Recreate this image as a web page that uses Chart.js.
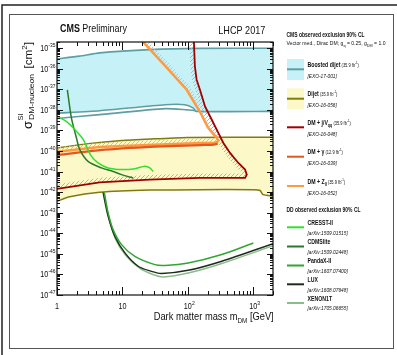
<!DOCTYPE html>
<html>
<head>
<meta charset="utf-8">
<script src="https://cdn.jsdelivr.net/npm/chart.js@4/dist/chart.umd.min.js"></script>
<style>
  html, body { margin: 0; padding: 0; background: #fff; }
  canvas { display: block; }
</style>
</head>
<body>
<canvas id="c" width="397" height="355"></canvas>
<script>
// ---- Collider limits (mass in GeV, SI cross section in cm^2) ----
const boostedTopMass = [1, 2.2, 4.5, 26, 150, 2000];
const boostedTopXsec = [3.0e-36, 4.1e-36, 5.9e-36, 8.5e-36, 9.8e-36, 1.0e-35];
const boostedBotMass = [1, 4.5, 45, 90, 120, 134, 2000];
const boostedBotXsec = [6.9e-39, 9.1e-39, 1.78e-38, 1.78e-38, 1.25e-38, 8.5e-39, 8.5e-39];
const boostedTongueMass = [1, 4.5, 45, 100, 125, 134];
const boostedTongueXsec = [3.8e-39, 5.9e-39, 1.15e-38, 1.0e-38, 9.5e-39, 8.5e-39];

const dijetTopMass = [1, 3, 9.7, 31, 100, 2000];
const dijetTopXsec = [1.41e-40, 2.29e-40, 3.24e-40, 3.9e-40, 4.57e-40, 4.68e-40];
const dijetBotMass = [1, 1.56, 4.5, 26, 150, 1000, 1270, 1410, 2000];
const dijetBotXsec = [3.6e-43, 6.0e-43, 9.8e-43, 1.26e-42, 1.32e-42, 1.32e-42, 1.2e-42, 7.6e-43, 6.5e-43];

const jvMass = [122, 124, 128, 136, 153, 183, 231, 292, 349, 441, 591, 749, 795, 749, 667, 153, 26, 4.5, 1];
const jvXsec = [3.5e-35, 1.78e-35, 1.32e-36, 2.95e-37, 9.5e-38, 1.48e-38, 3.4e-39, 7.6e-40, 2.45e-40, 8.1e-41, 2.63e-41, 1.26e-41, 7.1e-42, 4.9e-42, 4.9e-42, 4.9e-42, 4.1e-42, 3.0e-42, 1.45e-42];

const photonMass = [1, 4.5, 31, 153, 250, 285];
const photonXsec = [6.3e-41, 1.1e-40, 1.62e-40, 1.95e-40, 2.04e-40, 2.3e-40];

const zllMass = [17.4, 20.7, 44.6, 96, 153, 203, 274, 292, 280, 250, 153, 31, 4.5, 1];
const zllXsec = [4.1e-35, 2.0e-35, 1.41e-36, 9.5e-38, 8.1e-39, 1.38e-39, 4.5e-40, 3.2e-40, 2.7e-40, 2.55e-40, 2.45e-40, 2.04e-40, 1.55e-40, 9.3e-41];

// ---- Direct detection limits ----
const cresstMass = [1, 1.39, 1.98, 2.5, 2.9, 3.3, 4.24, 6.04, 9.68, 15.5, 22, 26.3, 29.5];
const cresstXsec = [4.9e-39, 2.75e-39, 9.1e-40, 3.8e-40, 1.4e-40, 6.0e-41, 2.63e-41, 1.51e-41, 1.26e-41, 1.38e-41, 1.82e-41, 1.51e-41, 1.0e-41];
const cdmsMass = [1.44, 1.66, 1.98, 2.23, 2.98, 4.79, 7.2, 9.68, 14.6];
const cdmsXsec = [9.5e-38, 4.1e-39, 4.4e-40, 1.17e-40, 3.16e-41, 1.51e-41, 1.02e-41, 7.1e-42, 4.9e-42];
const pandaMass = [5.25, 6.04, 7.2, 9.68, 15.5, 31.3, 44.6, 101, 330, 1000];
const pandaXsec = [9.8e-43, 9.8e-44, 1.51e-44, 2.82e-45, 7.6e-46, 3.0e-46, 2.75e-46, 3.6e-46, 9.3e-46, 3.4e-45];
const luxMass = [5.06, 6.04, 7.65, 10.9, 17.4, 27.9, 39.7, 101, 330, 2000];
const luxXsec = [9.8e-43, 6.8e-44, 7.2e-45, 1.12e-45, 2.5e-46, 1.41e-46, 1.1e-46, 1.58e-46, 4.4e-46, 3.16e-45];
const xenonMass = [5.3, 6.2, 7.92, 11.3, 18.5, 29.2, 42, 101, 330, 2000];
const xenonXsec = [9.0e-43, 6.0e-44, 4.9e-45, 8.3e-46, 1.95e-46, 1.0e-46, 7.6e-47, 1.17e-46, 3.4e-46, 2.5e-45];

// ---- Axis ticks ----
const xTickExponents = [0, 1, 2, 3];
const yTickExponents = [-47, -46, -45, -44, -43, -42, -41, -40, -39, -38, -37, -36, -35];

// ---- Legend text ----
const colliderNames = ['Boosted dijet', 'Dijet', 'DM + j/V', 'DM + \u03b3', 'DM + Z'];
const colliderNameSubs = ['', '', 'qq', '', 'll'];
const colliderLumis = ['35.9', '35.9', '35.9', '12.9', '35.9'];
const colliderRefs = ['[EXO-17-001]', '[EXO-16-056]', '[EXO-16-048]', '[EXO-16-039]', '[EXO-16-052]'];
const ddNames = ['CRESST-II', 'CDMSlite', 'PandaX-II', 'LUX', 'XENON1T'];
const ddRefs = ['[arXiv:1509.01515]', '[arXiv:1509.02448]', '[arXiv:1607.07400]', '[arXiv:1608.07648]', '[arXiv:1705.06655]'];

const COL = {
  cyanFill: '#c6f1f7', teal: '#5f9da5',
  yellowFill: '#fcf8c8', olive: '#7f7b10',
  jv: '#a00000', photon: '#e4561e', zll: '#ff9a40',
  cresst: '#2fe02f', cdms: '#2a7a2a', panda: '#30a530', lux: '#1d2d1d', xenon: '#8cbc8c'
};

const pts = (m, s) => m.map((v, i) => ({ x: v, y: s[i] }));
const FONT = '"Liberation Sans", Arial, sans-serif';

function line(label, m, s, color, width, extra) {
  return Object.assign({
    label, data: pts(m, s), borderColor: color, borderWidth: width,
    showLine: true, pointRadius: 0, fill: false, tension: 0, clip: 0
  }, extra || {});
}

const datasets = [
  line('CRESST-II', cresstMass, cresstXsec, COL.cresst, 1.5, { order: 1, tension: 0.3 }),
  line('CDMSlite', cdmsMass, cdmsXsec, COL.cdms, 1.5, { order: 1, tension: 0.3 }),
  line('PandaX-II', pandaMass, pandaXsec, COL.panda, 1.5, { order: 1, tension: 0.3 }),
  line('LUX', luxMass, luxXsec, COL.lux, 1.5, { order: 1, tension: 0.3 }),
  line('XENON1T', xenonMass, xenonXsec, COL.xenon, 1.5, { order: 1, tension: 0.3 }),
  line('DM + j/V', jvMass, jvXsec, COL.jv, 1.8, { order: 2, hatch: '#e8a07a' }),
  line('DM + gamma', photonMass, photonXsec, COL.photon, 2.2, { order: 3, tension: 0.2 }),
  line('DM + Z', zllMass, zllXsec, COL.zll, 2.5, { order: 4, hatch: '#f7b28a', hatchSteepOutside: true }),
  line('Dijet low', dijetBotMass, dijetBotXsec, COL.olive, 1.5, { order: 5, tension: 0.2 }),
  line('Dijet', dijetTopMass, dijetTopXsec, COL.olive, 1.5, { order: 6, tension: 0.2, fill: 8, backgroundColor: COL.yellowFill }),
  line('Boosted tongue', boostedTongueMass, boostedTongueXsec, COL.teal, 1.6, { order: 7, tension: 0.2 }),
  line('Boosted low', boostedBotMass, boostedBotXsec, COL.teal, 1.6, { order: 7, tension: 0.2 }),
  line('Boosted dijet', boostedTopMass, boostedTopXsec, COL.teal, 1.6, { order: 8, tension: 0.2, fill: 11, backgroundColor: COL.cyanFill })
];

function hatchPattern(ctx, color) {
  const c = document.createElement('canvas');
  c.width = 4; c.height = 4;
  const g = c.getContext('2d');
  g.strokeStyle = color; g.lineWidth = 1;
  g.beginPath();
  g.moveTo(-1, 5); g.lineTo(5, -1);
  g.moveTo(-1, 1); g.lineTo(1, -1);
  g.moveTo(3, 5); g.lineTo(5, 3);
  g.stroke();
  return ctx.createPattern(c, 'repeat');
}

// One-sided hatched band drawn along a contour
const hatchBand = {
  id: 'hatchBand',
  beforeDatasetDraw(chart, args) {
    const ds = chart.data.datasets[args.index];
    if (!ds.hatch) return;
    const ctx = chart.ctx, a = chart.chartArea, w = 4.5;
    const p = args.meta.data.map(e => [e.x, e.y]);
    ctx.save();
    ctx.beginPath(); ctx.rect(a.left, a.top, a.right - a.left, a.bottom - a.top); ctx.clip();
    ctx.fillStyle = hatchPattern(ctx, ds.hatch);
    for (let i = 0; i < p.length - 1; i++) {
      const [x0, y0] = p[i], [x1, y1] = p[i + 1];
      const dx = x1 - x0, dy = y1 - y0, L = Math.hypot(dx, dy);
      if (!L) continue;
      const side = ds.hatchSteepOutside && Math.abs(dy) > Math.abs(dx) * 0.4 ? -1 : 1;
      const nx = -dy / L * w * side, ny = dx / L * w * side;
      ctx.beginPath();
      ctx.moveTo(x0, y0); ctx.lineTo(x1, y1);
      ctx.lineTo(x1 + nx, y1 + ny); ctx.lineTo(x0 + nx, y0 + ny);
      ctx.closePath(); ctx.fill();
    }
    ctx.restore();
  }
};

// Draws a run of text segments [text, font, dy] with horizontal compression
function rich(ctx, segs, x, y, sx, align, fitW) {
  ctx.save();
  let w = 0;
  for (const s of segs) { ctx.font = s[1]; w += ctx.measureText(s[0]).width; }
  if (fitW) sx = fitW / w;
  ctx.translate(x, y); ctx.scale(sx, 1);
  let cx = align === 'right' ? -w : align === 'center' ? -w / 2 : 0;
  for (const s of segs) {
    ctx.font = s[1];
    ctx.fillText(s[0], cx, s[2] || 0);
    cx += ctx.measureText(s[0]).width;
  }
  ctx.restore();
  return w * sx;
}
const f = (size, style) => (style ? style + ' ' : '') + size + 'px ' + FONT;

const decorations = {
  id: 'decorations',
  afterDraw(chart) {
    const ctx = chart.ctx, a = chart.chartArea;
    const xs = chart.scales.x, ys = chart.scales.y;
    ctx.save();
    ctx.fillStyle = '#111';
    ctx.textBaseline = 'alphabetic';

    // page frames
    ctx.strokeStyle = '#222'; ctx.lineWidth = 1.5;
    ctx.beginPath(); ctx.moveTo(2, 355); ctx.lineTo(2, 5); ctx.lineTo(397, 5); ctx.stroke();
    ctx.strokeStyle = '#555'; ctx.lineWidth = 1;
    ctx.strokeRect(9.5, 14.5, 384, 334);

    // plot frame
    ctx.strokeStyle = '#111'; ctx.lineWidth = 1.2;
    ctx.strokeRect(a.left, a.top, a.right - a.left, a.bottom - a.top);

    // x ticks (inward, bottom and top)
    ctx.lineWidth = 1;
    ctx.beginPath();
    for (let d = 0; d <= 3; d++) {
      for (let k = 1; k <= 9; k++) {
        const v = k * Math.pow(10, d);
        if (v > xs.max) break;
        const px = Math.round(xs.getPixelForValue(v)) + 0.5;
        const len = k === 1 ? 8 : 4;
        ctx.moveTo(px, a.bottom); ctx.lineTo(px, a.bottom - len);
        ctx.moveTo(px, a.top); ctx.lineTo(px, a.top + len);
      }
    }
    // y ticks (inward, left and right)
    for (let e = -47; e <= -35; e++) {
      for (let k = 1; k <= 9; k++) {
        const v = k * Math.pow(10, e);
        if (v > ys.max) break;
        const py = Math.round(ys.getPixelForValue(v)) + 0.5;
        const len = k === 1 ? 6 : 3;
        ctx.moveTo(a.left, py); ctx.lineTo(a.left + len, py);
        ctx.moveTo(a.right, py); ctx.lineTo(a.right - len, py);
      }
    }
    ctx.stroke();

    // y tick labels
    for (const e of yTickExponents) {
      const py = ys.getPixelForValue(Math.pow(10, e));
      rich(ctx, [['10', f(8.5), 0], [String(e), f(5.8), -4]], 55.5, py + 3, 0.85, 'right');
    }
    // x tick labels
    for (const e of xTickExponents) {
      const px = xs.getPixelForValue(Math.pow(10, e));
      if (e === 0) rich(ctx, [['1', f(8.5)]], px, 309, 0.85, 'center');
      else if (e === 1) rich(ctx, [['10', f(8.5)]], px, 309, 0.85, 'center');
      else {
        ctx.save(); ctx.font = f(8.5);
        const w10 = ctx.measureText('10').width * 0.85;
        ctx.restore();
        rich(ctx, [['10', f(8.5), 0], [String(e), f(6), -4]], px - w10 / 2, 309, 0.85, 'left');
      }
    }

    // axis titles
    rich(ctx, [['Dark matter mass m', f(11)], ['DM', f(7.5), 3], [' [GeV]', f(11)]], 273.7, 320, 1, 'right', 120);
    ctx.save();
    ctx.translate(31.5, 129); ctx.rotate(-Math.PI / 2);
    ctx.font = f(13); ctx.fillText('\u03c3', 0, 0);
    const sw = ctx.measureText('\u03c3').width;
    ctx.font = f(7.5); ctx.fillText('SI', sw + 0.5, -8.5);
    rich(ctx, [['DM-nucleon', f(8)]], sw + 1, 2.2, 1, 'left', 46);
    rich(ctx, [['[cm', f(11), 0], ['2', f(7.5), -5], [']', f(11), 0]], 60.5, 0, 1, 'left', 26.5);
    ctx.restore();

    // headline texts
    rich(ctx, [['CMS', f(10.5, 'bold')], [' Preliminary', f(10.5)]], 60, 32, 1, 'left', 67);
    rich(ctx, [['LHCP 2017', f(11.5)]], 218.3, 34, 1, 'left', 47);

    // legend
    const lx = 286.5, tx = 307.5, sx = 0.8;
    rich(ctx, [['CMS observed exclusion 90% CL', f(6.5, 'bold')]], lx, 36.5, 1, 'left', 78);
    rich(ctx, [['Vector med., Dirac DM; g', f(5.5)], ['q', f(4), 1.5], [' = 0.25, g', f(5.5)], ['DM', f(4), 1.5], [' = 1.0', f(5.5)]], lx, 45, 1, 'left', 99);

    const colliderLineY = [69.3, 98.7, 127.3, 156.7, 186];
    const colliderColors = [COL.teal, COL.olive, COL.jv, COL.photon, COL.zll];
    for (let i = 0; i < colliderNames.length; i++) {
      const y = colliderLineY[i];
      if (i < 2) {
        ctx.fillStyle = i === 0 ? COL.cyanFill : COL.yellowFill;
        ctx.fillRect(287, y - 10.3, 17, 21);
      }
      ctx.strokeStyle = colliderColors[i]; ctx.lineWidth = 2;
      ctx.beginPath(); ctx.moveTo(287, y); ctx.lineTo(304, y); ctx.stroke();
      ctx.fillStyle = '#111';
      const segs = [[colliderNames[i], f(6.5, 'bold'), 0]];
      if (colliderNameSubs[i]) segs.push([colliderNameSubs[i], f(4.5, 'bold'), 2]);
      segs.push([' (' + colliderLumis[i] + ' fb', f(5), 0], ['-1', f(3.5), -3], [')', f(5), 0]);
      rich(ctx, segs, tx, y - 2.5, sx, 'left');
      rich(ctx, [[colliderRefs[i], f(6, 'italic')]], tx, y + 8.5, sx, 'left');
    }

    rich(ctx, [['DD observed exclusion 90% CL', f(6.5, 'bold')]], lx, 211.5, 1, 'left', 74);
    const ddLineY = [227.3, 246.5, 265.5, 284.3, 303];
    const ddColors = [COL.cresst, COL.cdms, COL.panda, COL.lux, COL.xenon];
    for (let i = 0; i < ddNames.length; i++) {
      const y = ddLineY[i];
      ctx.strokeStyle = ddColors[i]; ctx.lineWidth = 2;
      ctx.beginPath(); ctx.moveTo(287, y); ctx.lineTo(304, y); ctx.stroke();
      ctx.fillStyle = '#111';
      rich(ctx, [[ddNames[i], f(6.5, 'bold')]], tx, y - 2.3, sx, 'left');
      rich(ctx, [[ddRefs[i], f(6, 'italic')]], tx, y + 7.2, sx, 'left');
    }
    ctx.restore();
  }
};

new Chart(document.getElementById('c'), {
  type: 'scatter',
  data: { datasets },
  options: {
    responsive: false,
    animation: false,
    events: [],
    layout: { padding: { left: 57, right: 124, top: 42, bottom: 60 } },
    scales: {
      x: { type: 'logarithmic', min: 1, max: 2000, display: false },
      y: { type: 'logarithmic', min: 1e-47, max: 2e-35, display: false }
    },
    plugins: {
      legend: { display: false },
      tooltip: { enabled: false },
      filler: { propagate: false }
    }
  },
  plugins: [hatchBand, decorations]
});
</script>
</body>
</html>
